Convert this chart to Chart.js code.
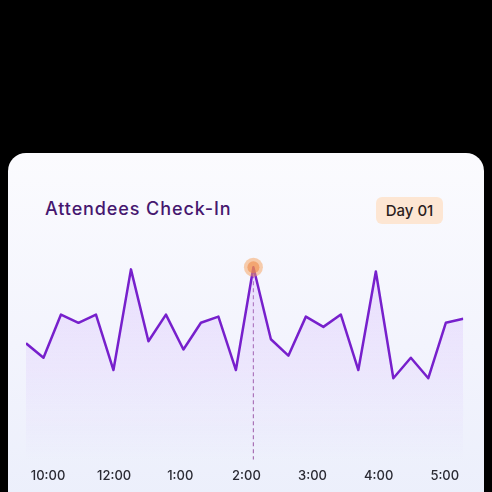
<!DOCTYPE html>
<html>
<head>
<meta charset="utf-8">
<script src="https://cdn.jsdelivr.net/npm/chart.js@4.4.1/dist/chart.umd.min.js"></script>
<style>
  html, body { margin: 0; padding: 0; background: #000; }
  body { width: 492px; height: 492px; position: relative; overflow: hidden; font-family: "Inter", sans-serif; }
  .card {
    position: absolute; left: 8px; top: 153px; width: 476px; height: 380px;
    border-radius: 18px;
    background: linear-gradient(180deg, #fbfbfe 0%, #f3f4fd 50%, #eaeefb 100%);
  }
  .title {
    position: absolute; left: 45px; top: 198px;
    font-size: 18px; font-weight: 500; color: #46176f; letter-spacing: 0.9px;
  }
  .badge {
    position: absolute; left: 376px; top: 197px; width: 67px; height: 27px;
    border-radius: 6px; background: #fde6d3;
    font-size: 15px; font-weight: 500; color: #2b1d1d;
    line-height: 27px; text-align: center;
  }
  canvas { position: absolute; left: 0; top: 0; }
</style>
</head>
<body>
<div class="card"></div>
<div class="title">Attendees Check-In</div>
<div class="badge">Day 01</div>
<canvas id="chart" width="492" height="492"></canvas>
<script>
// check-ins per time slot
const slots = Array.from({ length: 26 }, (_, i) => i);
const checkIns = [57, 50, 71, 67, 71, 44, 93, 58, 71, 54, 67, 70, 44,
                  94, 59, 51, 70, 65, 71, 44, 92, 40, 50, 40, 67, 69];
const timeLabels = ["10:00", "12:00", "1:00", "2:00", "3:00", "4:00", "5:00"];

// where the time labels sit along the slot axis
const firstTick = 1.26;
const tickStep = 3.78;

const peakIndex = checkIns.indexOf(Math.max(...checkIns));

// dashed line from the peak down, and the orange dot on top
const peakMarker = {
  id: "peakMarker",
  beforeDatasetsDraw(chart) {
    const x = chart.scales.x.getPixelForValue(slots[peakIndex]);
    const y = chart.scales.y.getPixelForValue(checkIns[peakIndex]);
    const c = chart.ctx;
    c.save();
    c.strokeStyle = "rgba(150, 80, 160, 0.8)";
    c.lineWidth = 1.2;
    c.setLineDash([4, 3]);
    c.beginPath();
    c.moveTo(x, y);
    c.lineTo(x, chart.chartArea.bottom - 1);
    c.stroke();
    c.restore();
  },
  afterDatasetsDraw(chart) {
    const x = chart.scales.x.getPixelForValue(slots[peakIndex]);
    const y = chart.scales.y.getPixelForValue(checkIns[peakIndex]);
    const c = chart.ctx;
    c.save();
    c.fillStyle = "rgba(246, 160, 90, 0.5)";
    c.beginPath();
    c.arc(x, y, 9.5, 0, Math.PI * 2);
    c.fill();
    c.fillStyle = "rgba(240, 135, 65, 0.55)";
    c.beginPath();
    c.arc(x, y, 6, 0, Math.PI * 2);
    c.fill();
    c.restore();
  }
};

const ctx = document.getElementById("chart").getContext("2d");
new Chart(ctx, {
  type: "line",
  data: {
    datasets: [{
      data: slots.map((s, i) => ({ x: s, y: checkIns[i] })),
      borderColor: "#7720cc",
      borderWidth: 2.5,
      tension: 0,
      borderJoinStyle: "round",
      fill: "start",
      backgroundColor: c => {
        const area = c.chart.chartArea;
        if (!area) return "rgba(200,170,255,0.2)";
        const g = c.chart.ctx.createLinearGradient(0, area.top, 0, area.bottom);
        g.addColorStop(0, "rgba(205, 165, 255, 0.3)");
        g.addColorStop(0.5, "rgba(205, 165, 255, 0.17)");
        g.addColorStop(1, "rgba(205, 165, 255, 0.0)");
        return g;
      },
      pointRadius: 0,
      pointHoverRadius: 0
    }]
  },
  options: {
    responsive: false,
    animation: false,
    layout: { padding: { top: 255, left: 26, right: 28.7, bottom: 0 } },
    scales: {
      x: {
        type: "linear",
        min: 0,
        max: 25,
        grid: { display: false, drawTicks: false },
        border: { display: false },
        afterBuildTicks: axis => {
          axis.ticks = timeLabels.map((l, i) => ({ value: firstTick + i * tickStep }));
        },
        ticks: {
          autoSkip: false,
          maxRotation: 0,
          padding: 8,
          color: "#2a2a33",
          font: { family: "Inter", size: 13, weight: "500" },
          callback: (value, i) => timeLabels[i]
        }
      },
      y: { display: false, min: 0, max: 100 }
    },
    plugins: {
      legend: { display: false },
      tooltip: { enabled: false }
    }
  },
  plugins: [peakMarker]
});
</script>
</body>
</html>
